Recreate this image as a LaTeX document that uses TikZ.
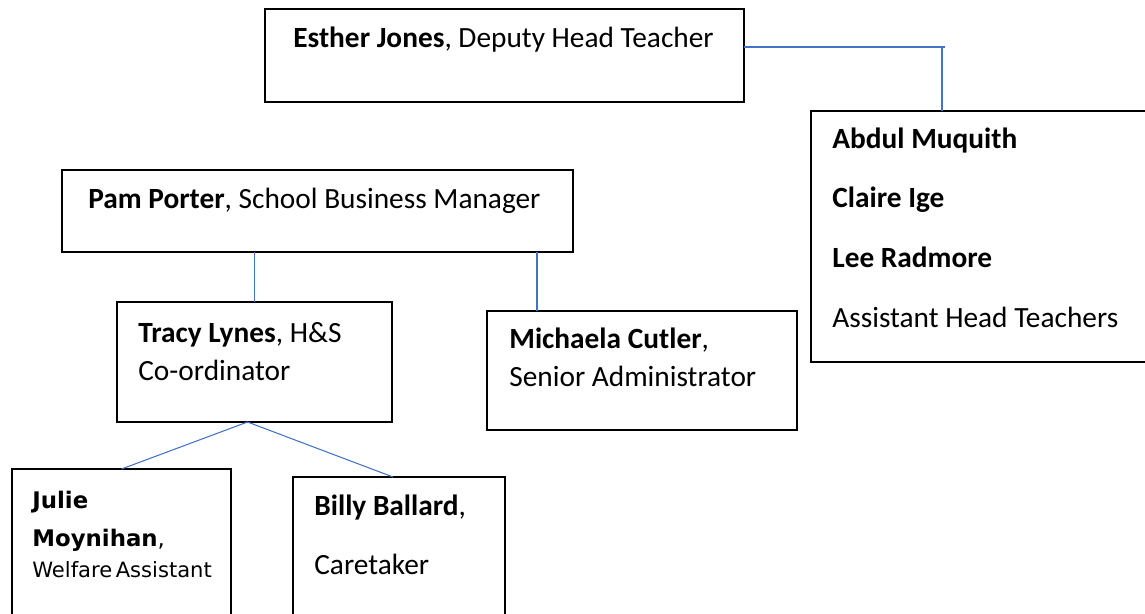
\documentclass[tikz,border=0pt]{standalone}
\usepackage{fontspec}
\setmainfont{Carlito}
\newfontfamily\smallsans{DejaVu Sans}
\usetikzlibrary{calc}
\definecolor{linkblue}{HTML}{4472C4}
\newcommand{\pxu}{0.02cm}
\tikzset{
  box/.style={draw=black, line width=1.1pt, anchor=north west, inner sep=0pt, outer sep=0pt},
  txt/.style={anchor=base west, inner sep=0pt, font=\fontsize{16.7}{22}\selectfont},
  link/.style={draw=linkblue, line width=0.6pt},
}

\begin{document}
\begin{tikzpicture}[x=0.02cm, y=-0.02cm]
		%%%%% frame %%%%%
		\useasboundingbox (0,0) rectangle (1145,613);
		
		%%%%% boxes %%%%%
		\node[box, minimum width=479*\pxu, minimum height=93*\pxu] (esther) at (265,9) {};
		\node[box, minimum width=339*\pxu, minimum height=251*\pxu] (aheads) at (811,111) {};
		\node[box, minimum width=511*\pxu, minimum height=82*\pxu] (pam) at (62,170) {};
		\node[box, minimum width=275*\pxu, minimum height=120*\pxu] (tracy) at (117,302) {};
		\node[box, minimum width=310*\pxu, minimum height=119*\pxu] (michaela) at (487,311) {};
		\node[box, minimum width=219*\pxu, minimum height=150*\pxu] (julie) at (12,469) {};
		\node[box, minimum width=212*\pxu, minimum height=145*\pxu] (billy) at (293,477) {};
		
		%%%%% texts %%%%%
		\node[txt] (esther-t) at (293,47) {\textbf{Esther Jones}, Deputy Head Teacher};
		\node[txt] (aheads-t) at (832,148) {\begin{tabular}[t]{@{}l@{}}\textbf{Abdul Muquith}\\[12pt]\textbf{Claire Ige}\\[12pt]\textbf{Lee Radmore}\\[12pt]Assistant Head Teachers\end{tabular}};
		\node[txt] (pam-t) at (88,208) {\textbf{Pam Porter}, School Business Manager};
		\node[txt] (tracy-t) at (138,342) {\begin{tabular}[t]{@{}l@{}}\textbf{Tracy Lynes}, H\&S\\Co-ordinator\end{tabular}};
		\node[txt] (michaela-t) at (509,348) {\begin{tabular}[t]{@{}l@{}}\textbf{Michaela Cutler},\\Senior Administrator\end{tabular}};
		\node[txt, font=\smallsans\fontsize{13}{17.6}\selectfont] (julie-t) at (32,508) {\begin{tabular}[t]{@{}l@{}}\textbf{Julie}\\[4.4pt]\textbf{Moynihan},\\{\fontsize{12}{14}\selectfont Welfare\,Assistant}\end{tabular}};
		\node[txt] (billy-t) at (314,515) {\begin{tabular}[t]{@{}l@{}}\textbf{Billy Ballard},\\[12pt]Caretaker\end{tabular}};
		
		%%%%% links %%%%%
		\coordinate (esther-end) at (945,47);
		\coordinate (esther-turn) at (942,47);
		\draw[link] (esther.east |- esther-end) -- (esther-end);
		\draw[link] (esther-turn) -- (esther-turn |- aheads.north);
		
		\draw[link] (tracy.north |- pam.south) -- (tracy.north);
		\draw[link] (michaela.north west) ++(50,0) coordinate (michaela-top) -- (michaela-top |- pam.south);
		
		\coordinate (tracy-low) at ($(tracy.south)+(-7,0)$);
		\coordinate (billy-top) at ($(billy.north west)+(100,0)$);
		\draw[link] (julie.north) -- (tracy-low) -- (billy-top);
		
	\end{tikzpicture}
\end{document}
